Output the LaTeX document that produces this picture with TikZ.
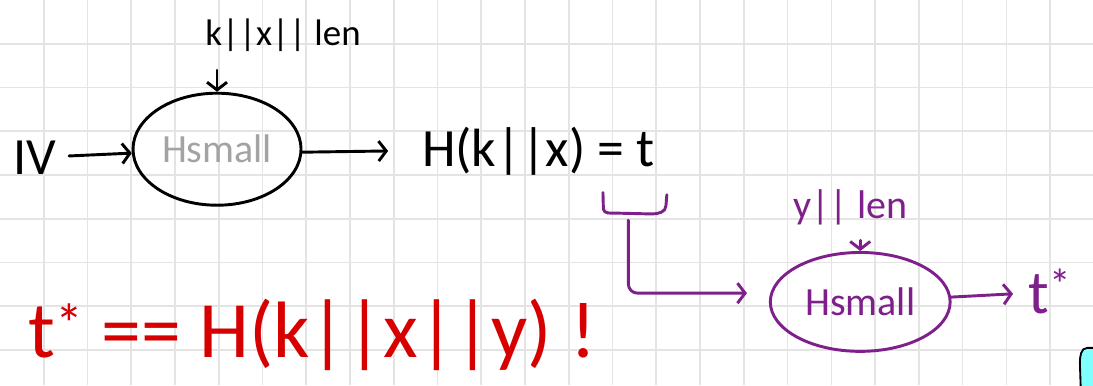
\documentclass[tikz,border=0pt]{standalone}
\usepackage{fontspec}
\setmainfont{Carlito}
\usetikzlibrary{arrows.meta,positioning,shapes.geometric}
\definecolor{inkpurple}{HTML}{7E1F8C}
\definecolor{inkred}{HTML}{D60000}
\definecolor{inkgray}{HTML}{A3A3A3}
\definecolor{gridline}{HTML}{E4E4E4}
\definecolor{marker}{HTML}{80FFFF}

\begin{document}
\begin{tikzpicture}[
    pen/.style={line width=1.9pt, line cap=round, line join=round},
    hand/.style={pen, -{Straight Barb[length=5pt,width=13pt]}},
    blob/.style={draw, ellipse, pen, inner sep=0pt},
    scrawl/.style={font=\fontsize{#1}{#1}\selectfont, inner sep=2pt},
  ]
  \useasboundingbox (0,0) rectangle (24.98,-8.8);
  \fill[white] (0,0) rectangle (24.98,-8.8);
  \foreach \i in {1,...,24}
    \draw[gridline, line width=1.1pt] (\i,0) -- (\i,-8.8);
  \foreach \j in {1,...,8}
    \draw[gridline, line width=1.1pt] (0,-\j) -- (24.98,-\j);

  % first hash
  \node[blob, minimum width=3.84cm, minimum height=2.56cm,
        text=inkgray, scrawl=26] (h1) at (4.96,-3.41) {Hsmall};
  \node[scrawl=34] (iv) at (0.8,-3.6) {IV};
  \node[scrawl=24] (kxlen) at (6.47,-0.8) {k||x|| len};
  \coordinate (out1) at (8.87,-3.45);
  \draw[hand, shorten <=6pt] (iv) -- (h1);
  \draw[hand, shorten <=10pt] (kxlen.south -| h1.north) -- (h1.north);
  \draw[hand] (h1.-2) -- (out1);
  \node[scrawl=35, right=0.7cm of out1] (tag) {H(k||x) = t};

  % brace under t
  \draw[pen, inkpurple] (13.78,-4.40) -- (13.79,-4.78) to[out=-80,in=180] (14.05,-4.87)
    -- (14.9,-4.89) to[out=0,in=-90] (15.22,-4.7) -- (15.24,-4.45);
  \coordinate (brace) at (14.36,-5.03);

  % second hash
  \node[blob, draw=inkpurple, text=inkpurple, minimum width=4.11cm,
        minimum height=2.26cm, scrawl=26] (h2) at (19.66,-6.9) {Hsmall};
  \node[scrawl=26, text=inkpurple] (ylen) at (19.43,-4.73) {y|| len};
  \node[scrawl=40, text=inkpurple] (tstar) at (24.0,-6.67) {t\textsuperscript{*}};
  \draw[hand, inkpurple, rounded corners=6pt] (brace) |- ([shift={(-0.5,0.2)}]h2.west);
  \draw[hand, inkpurple, shorten <=8pt] (ylen.south -| h2.north) -- (h2.north);
  \draw[hand, inkpurple, shorten >=8pt] (h2) -- (tstar);

  % check
  \node[scrawl=52, text=inkred, anchor=west] (check) at (0.57,-7.65)
    {t\textsuperscript{*} == H(k||x||y) !};

  % marker at the edge
  \filldraw[fill=marker, draw=black, line width=1.2pt]
    (24.7,-8.9) -- (24.68,-8.3) to[out=90,in=180] (24.85,-7.95) -- (25.2,-7.95) -- (25.2,-8.9);
\end{tikzpicture}
\end{document}
